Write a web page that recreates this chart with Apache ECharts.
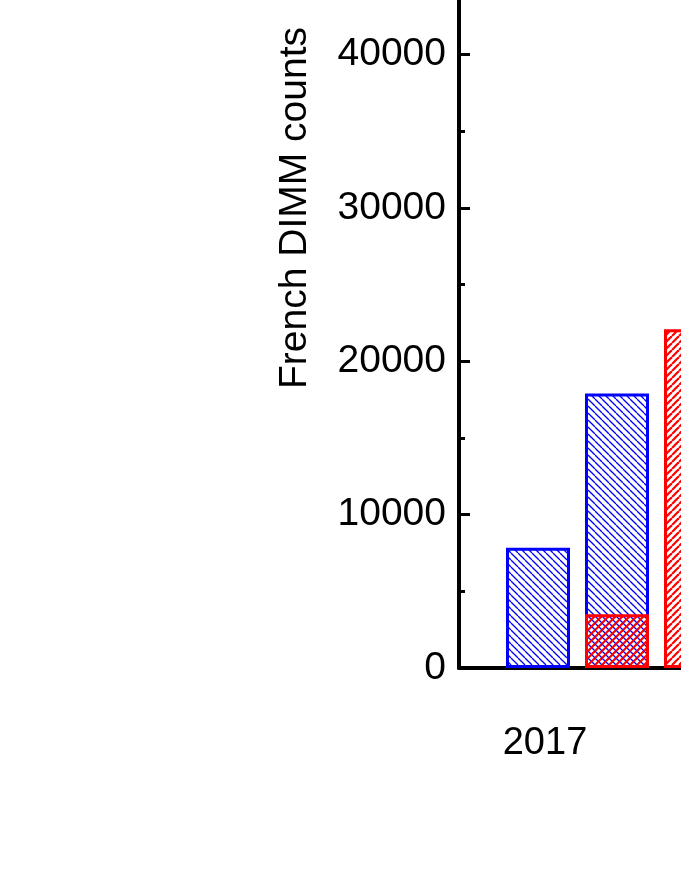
<!DOCTYPE html>
<html>
<head>
<meta charset="utf-8">
<script src="https://cdn.jsdelivr.net/npm/echarts@6/dist/echarts.min.js"></script>
<style>
  html, body { margin: 0; padding: 0; background: #fff; }
  #main { width: 681px; height: 881px; }
</style>
</head>
<body>
<div id="main"></div>
<script>
// slots along the x axis (only the year is labelled)
var categories = ['', '2017', '2017b', '2018a', '2018b'];
var yearLabels = ['2017'];
// blue hatched bars
var blueCounts = ['-', 7850, 17900, '-', '-'];
// red hatched bars
var redCounts = ['-', '-', 3500, 22100, '-'];
var yTicks = [0, 10000, 20000, 30000, 40000, 50000, 60000];

// hatch pattern
function hatch(color, width, dir, s) {
    var c = document.createElement('canvas');
    c.width = s; c.height = s;
    var ctx = c.getContext('2d');
    ctx.strokeStyle = color;
    ctx.lineWidth = width;
    for (var k = -1; k <= 1; k++) {
        ctx.beginPath();
        if (dir === 'back') {
            ctx.moveTo(k * s, 0); ctx.lineTo(k * s + s, s);
        } else {
            ctx.moveTo(k * s, s); ctx.lineTo(k * s + s, 0);
        }
        ctx.stroke();
    }
    return { image: c, repeat: 'repeat' };
}

var myChart = echarts.init(document.getElementById('main'), null, { devicePixelRatio: 1 });
var font = 'Liberation Sans, Arial, sans-serif';

var option = {
    animation: false,
    grid: { left: 459, right: -94, top: -252, bottom: 213, containLabel: false, outerBoundsMode: 'none' },
    xAxis: {
        type: 'category',
        data: categories,
        boundaryGap: false,
        axisLine: { lineStyle: { color: '#000', width: 4 } },
        axisTick: { show: false },
        axisLabel: {
            interval: 0,
            margin: 57,
            fontSize: 38,
            fontFamily: font,
            color: '#000',
            padding: [0, 0, 0, 14],
            formatter: function (v) { return yearLabels.indexOf(v) >= 0 ? v : ''; }
        },
        splitLine: { show: false }
    },
    yAxis: {
        type: 'value',
        min: yTicks[0],
        max: yTicks[yTicks.length - 1],
        interval: 10000,
        name: 'French DIMM counts',
        nameLocation: 'middle',
        nameGap: 144,
        nameTextStyle: { fontSize: 39, fontFamily: font, color: '#000' },
        axisLine: { show: true, lineStyle: { color: '#000', width: 4 } },
        axisTick: { show: true, inside: true, length: 11, lineStyle: { color: '#000', width: 3 } },
        minorTick: { show: true, splitNumber: 2, length: 6, lineStyle: { color: '#000', width: 3 } },
        axisLabel: {
            fontSize: 39, fontFamily: font, color: '#000', margin: 13,
            formatter: function (v) { return String(v); }
        },
        splitLine: { show: false }
    },
    series: [
        {
            name: 'blue',
            type: 'bar',
            data: blueCounts,
            barWidth: 64,
            barGap: '-100%',
            itemStyle: { color: hatch('#0000ff', 1.3, 'back', 7), borderColor: '#0000ff', borderWidth: 3 }
        },
        {
            name: 'red',
            type: 'bar',
            data: redCounts,
            barWidth: 64,
            barGap: '-100%',
            itemStyle: { color: hatch('#ff0000', 2.2, 'fwd', 7), borderColor: '#ff0000', borderWidth: 3 }
        }
    ]
};
myChart.setOption(option, true);
</script>
</body>
</html>
